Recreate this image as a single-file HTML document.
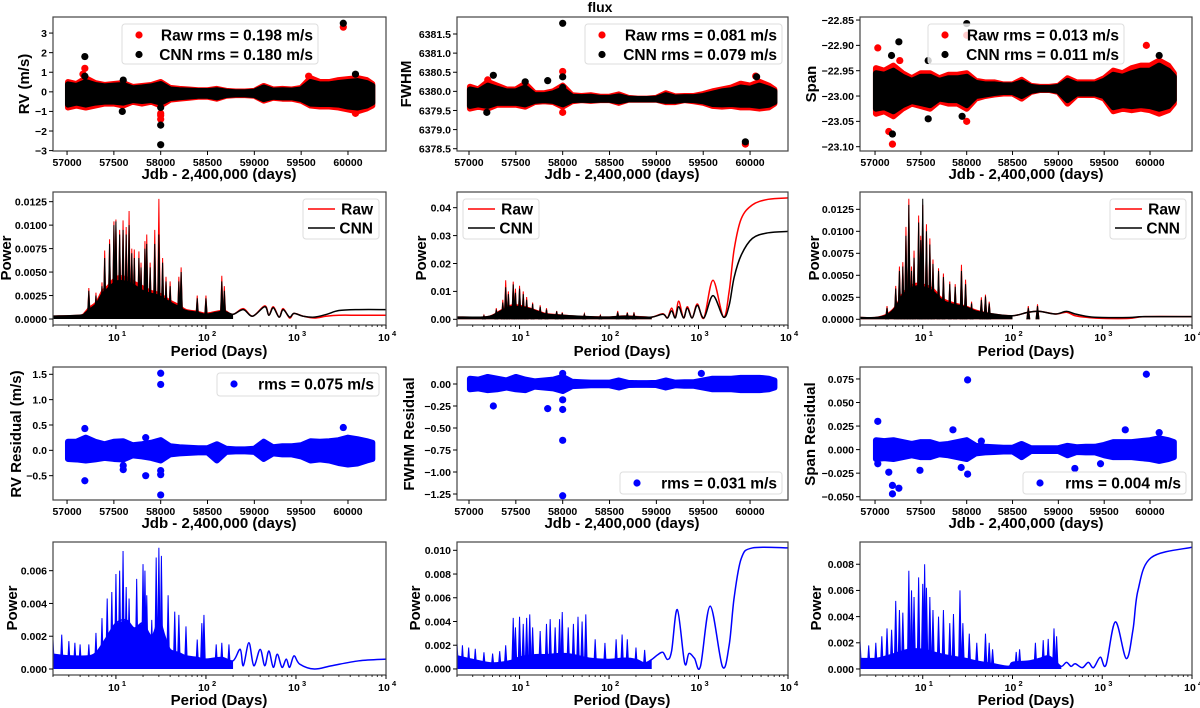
<!DOCTYPE html>
<html><head><meta charset="utf-8"><style>
html,body{margin:0;padding:0;background:#fff;width:1200px;height:708px;overflow:hidden}
svg{display:block;font-family:"Liberation Sans",sans-serif}
text{font-weight:bold;fill:#000}
</style></head><body>
<svg id="fig" width="1200" height="708" viewBox="0 0 1200 708"></svg>
<script>
// ---------- DATA ----------
const timeTicks=[57000,57500,58000,58500,59000,59500,60000];
const logTicks=[10,100,1000,10000];
const logTickLabels=["1","2","3","4"];
// RV (row1 col1)
const rvT=[57010,57100,57200,57300,57400,57500,57600,57700,57800,57900,58000,58100,58200,58300,58400,58500,58600,58700,58800,58900,59000,59100,59200,59300,59400,59500,59600,59700,59800,59900,60000,60100,60200,60260];
const rvRawHi=[0.5,0.4,0.7,0.45,0.35,0.4,0.45,0.25,0.3,0.35,0.5,0.2,0.15,0.12,0.08,0.08,0.15,0.05,0.02,0.02,0.05,0.3,0.12,0.15,0.12,0.2,0.7,0.5,0.5,0.6,0.65,0.7,0.6,0.4];
const rvRawLo=[-0.8,-0.7,-0.8,-0.7,-0.6,-0.6,-0.7,-0.5,-0.6,-0.5,-0.7,-0.4,-0.35,-0.3,-0.25,-0.25,-0.35,-0.2,-0.17,-0.17,-0.2,-0.45,-0.3,-0.35,-0.35,-0.45,-0.7,-0.75,-0.75,-0.8,-0.9,-1.0,-0.85,-0.7];
const rvCnnHi=[0.38,0.3,0.5,0.35,0.28,0.32,0.35,0.18,0.22,0.28,0.4,0.12,0.08,0.06,0.04,0.04,0.08,0.01,-0.02,-0.02,0.01,0.22,0.06,0.08,0.06,0.12,0.5,0.38,0.38,0.45,0.5,0.55,0.45,0.3];
const rvCnnLo=[-0.65,-0.55,-0.65,-0.55,-0.5,-0.5,-0.55,-0.42,-0.47,-0.42,-0.55,-0.32,-0.28,-0.24,-0.2,-0.2,-0.28,-0.16,-0.13,-0.13,-0.16,-0.37,-0.25,-0.28,-0.28,-0.37,-0.6,-0.62,-0.62,-0.65,-0.75,-0.8,-0.7,-0.55];
const rvRawOutT=[57190,57170,58000,58000,58000,59950,60080,59580];
const rvRawOutV=[1.2,0.9,-1.1,-1.4,-1.2,3.3,-1.1,0.8];
const rvCnnOutT=[57190,57190,57590,58000,58000,58000,59950,60080,57600];
const rvCnnOutV=[1.8,0.8,-1.0,-0.8,-1.7,-2.7,3.5,0.9,0.6];
// FWHM (row1 col2)
const fwT=rvT;
const fwRawHi=[6380.12,6380.05,6380.25,6380.15,6380.05,6380.05,6380.2,6379.95,6379.95,6380.0,6380.15,6379.9,6379.88,6379.9,6379.86,6379.86,6379.92,6379.83,6379.81,6379.81,6379.83,6379.95,6379.87,6379.88,6379.88,6379.93,6380.0,6380.05,6380.1,6380.2,6380.15,6380.25,6380.15,6380.05];
const fwRawLo=[6379.55,6379.6,6379.55,6379.65,6379.65,6379.65,6379.6,6379.72,6379.74,6379.72,6379.6,6379.74,6379.77,6379.75,6379.77,6379.77,6379.7,6379.78,6379.78,6379.78,6379.78,6379.72,6379.72,6379.77,6379.74,6379.7,6379.62,6379.6,6379.62,6379.58,6379.58,6379.55,6379.58,6379.68];
const fwCnnHi=[6380.05,6380.0,6380.15,6380.07,6380.0,6380.0,6380.1,6379.9,6379.9,6379.95,6380.05,6379.86,6379.85,6379.86,6379.83,6379.83,6379.87,6379.81,6379.8,6379.8,6379.81,6379.9,6379.84,6379.85,6379.85,6379.88,6379.94,6380.0,6380.03,6380.1,6380.07,6380.15,6380.07,6380.0];
const fwCnnLo=[6379.62,6379.66,6379.62,6379.7,6379.7,6379.7,6379.66,6379.75,6379.77,6379.75,6379.66,6379.77,6379.78,6379.77,6379.78,6379.78,6379.74,6379.79,6379.79,6379.79,6379.79,6379.75,6379.75,6379.78,6379.77,6379.74,6379.67,6379.66,6379.67,6379.65,6379.65,6379.62,6379.65,6379.72];
const fwRawOutT=[58000,58000,59950,60060,57200];
const fwRawOutV=[6380.52,6379.45,6378.62,6380.4,6380.3];
const fwCnnOutT=[58000,57260,57840,58000,58000,57190,59950,60070,57600];
const fwCnnOutV=[6381.78,6380.42,6380.28,6380.38,6380.1,6379.45,6378.68,6380.38,6380.25];
// Span (row1 col3)
const spT=rvT;
const spRawHi=[-22.945,-22.95,-22.94,-22.955,-22.965,-22.955,-22.955,-22.965,-22.958,-22.958,-22.955,-22.97,-22.973,-22.973,-22.977,-22.977,-22.968,-22.98,-22.982,-22.982,-22.98,-22.965,-22.973,-22.973,-22.973,-22.965,-22.95,-22.955,-22.945,-22.94,-22.94,-22.93,-22.94,-22.955];
const spRawLo=[-23.035,-23.03,-23.04,-23.025,-23.015,-23.02,-23.025,-23.01,-23.015,-23.015,-23.025,-23.005,-23.0,-22.997,-22.995,-22.995,-23.005,-22.992,-22.988,-22.988,-22.992,-23.015,-22.998,-22.998,-22.998,-23.005,-23.03,-23.025,-23.028,-23.025,-23.028,-23.035,-23.028,-23.015];
const spCnnHi=[-22.955,-22.958,-22.95,-22.962,-22.97,-22.962,-22.962,-22.97,-22.965,-22.965,-22.962,-22.974,-22.977,-22.977,-22.979,-22.979,-22.973,-22.982,-22.984,-22.984,-22.982,-22.97,-22.977,-22.977,-22.977,-22.97,-22.958,-22.962,-22.955,-22.95,-22.95,-22.94,-22.95,-22.962];
const spCnnLo=[-23.025,-23.022,-23.03,-23.018,-23.01,-23.014,-23.018,-23.005,-23.008,-23.008,-23.018,-23.0,-22.997,-22.994,-22.992,-22.992,-23.0,-22.99,-22.987,-22.987,-22.99,-23.008,-22.995,-22.995,-22.995,-23.0,-23.022,-23.018,-23.02,-23.018,-23.02,-23.025,-23.02,-23.008];
const spRawOutT=[57030,57190,57150,58000,58000,59960,57270];
const spRawOutV=[-22.905,-23.095,-23.07,-22.88,-23.05,-22.90,-22.93];
const spCnnOutT=[58000,57260,57190,57180,57580,57580,57950,60100];
const spCnnOutV=[-22.857,-22.893,-23.075,-22.92,-22.93,-23.045,-23.04,-22.92];
// Residuals (row3)
const rrT=rvT;
const rrHi=[0.17,0.17,0.25,0.17,0.12,0.17,0.18,0.1,0.12,0.15,0.2,0.08,0.06,0.05,0.04,0.04,0.12,0.03,0.02,0.02,0.03,0.17,0.06,0.08,0.08,0.1,0.18,0.17,0.18,0.2,0.25,0.22,0.18,0.15];
const rrLo=[-0.17,-0.18,-0.2,-0.18,-0.15,-0.17,-0.18,-0.1,-0.12,-0.15,-0.2,-0.08,-0.06,-0.05,-0.04,-0.04,-0.2,-0.03,-0.02,-0.02,-0.03,-0.17,-0.06,-0.08,-0.08,-0.12,-0.2,-0.18,-0.2,-0.25,-0.28,-0.26,-0.2,-0.17];
const rrOutT=[57190,57190,57600,57840,57840,58000,58000,58000,58000,58000,59950,57600];
const rrOutV=[0.43,-0.6,-0.38,0.25,-0.5,1.52,1.3,-0.4,-0.48,-0.88,0.45,-0.3];
const frHi=[0.06,0.05,0.08,0.06,0.04,0.08,0.05,0.03,0.04,0.05,0.08,0.025,0.02,0.015,0.015,0.015,0.04,0.012,0.01,0.01,0.012,0.04,0.015,0.02,0.02,0.04,0.06,0.06,0.06,0.07,0.07,0.07,0.06,0.04];
const frLo=[-0.06,-0.05,-0.07,-0.06,-0.04,-0.06,-0.07,-0.03,-0.04,-0.05,-0.08,-0.025,-0.02,-0.015,-0.015,-0.015,-0.04,-0.012,-0.01,-0.01,-0.012,-0.04,-0.015,-0.02,-0.02,-0.04,-0.06,-0.06,-0.06,-0.07,-0.07,-0.07,-0.06,-0.04];
const frOutT=[57260,57840,58000,58000,58000,58000,59480,58000];
const frOutV=[-0.25,-0.28,-0.18,-0.29,-0.64,-1.27,0.12,0.12];
const srHi=[0.01,0.009,0.01,0.008,0.006,0.008,0.008,0.005,0.006,0.008,0.01,0.004,0.003,0.0025,0.002,0.002,0.006,0.0015,0.0015,0.0015,0.0015,0.004,0.0025,0.003,0.003,0.005,0.008,0.008,0.008,0.009,0.01,0.012,0.01,0.008];
const srLo=[-0.01,-0.009,-0.01,-0.008,-0.006,-0.008,-0.008,-0.005,-0.006,-0.008,-0.01,-0.004,-0.003,-0.0025,-0.002,-0.002,-0.008,-0.0015,-0.0015,-0.0015,-0.0015,-0.006,-0.0025,-0.003,-0.003,-0.006,-0.008,-0.008,-0.008,-0.009,-0.01,-0.012,-0.01,-0.008];
const srOutT=[57030,57150,57190,57190,57260,58010,59960,57940,58010,57850,59730,58160,57490,59180,59460,60100,57030];
const srOutV=[0.03,-0.024,-0.038,-0.047,-0.041,0.074,0.08,-0.019,-0.026,0.021,0.021,0.009,-0.022,-0.02,-0.015,0.018,-0.015];
// Periodograms row2 col1 (RV)
const p1CoreP=[2,4,4.5,5,6,7,8,10,13,16,20,25,30,40,50,60,80,100,130,160,200,260,330,450,500,560,650,720,850,950,1200,1600,2200,3000,5000,10000];
const p1RawCore=[0.0003,0.0004,0.0007,0.0012,0.0018,0.003,0.0035,0.0045,0.0045,0.004,0.0035,0.003,0.0028,0.002,0.0015,0.001,0.0008,0.0006,0.0008,0.0009,0.0005,0.0011,0.0003,0.0014,0.0004,0.0013,0.0002,0.0011,0.0001,0.0006,0.0003,0.0001,0.0003,0.0004,0.0004,0.0004];
const p1CnnCore=[0.0003,0.0004,0.0006,0.001,0.0016,0.0027,0.0032,0.004,0.004,0.0036,0.003,0.0027,0.0025,0.0018,0.0013,0.0009,0.0007,0.0005,0.0007,0.0008,0.0005,0.001,0.0003,0.0013,0.0004,0.0012,0.0002,0.001,0.0002,0.0006,0.0003,0.0002,0.0005,0.0009,0.001,0.001];
const p1SpikeP=[5,6,7,7.5,8.5,9.5,10,11,12,13,14,15,16,18,19,21,22,24,27,30,33,36,40,50,53,80,100,150,160];
const p1RawSpike=[0.0033,0.0028,0.0039,0.0073,0.0085,0.0104,0.0106,0.0095,0.0105,0.0098,0.0115,0.0075,0.0074,0.0072,0.006,0.0083,0.009,0.006,0.0095,0.0128,0.0065,0.0045,0.004,0.0045,0.0055,0.0025,0.0025,0.0046,0.0035];
const p1CnnSpike=[0.003,0.0025,0.0035,0.0065,0.008,0.01,0.0104,0.009,0.0095,0.009,0.01,0.007,0.0065,0.0065,0.0055,0.0075,0.008,0.0055,0.008,0.009,0.006,0.004,0.0035,0.004,0.005,0.0022,0.0022,0.004,0.003];
// row2 col2 (FWHM)
const p2CoreP=[2,4,5,6,8,10,13,16,20,30,50,80,100,150,200,300,400,450,500,550,600,680,750,850,970,1150,1450,1900,2200,2500,3000,4000,6000,10000];
const p2RawCore=[0.0008,0.0008,0.0015,0.003,0.005,0.005,0.004,0.003,0.002,0.0015,0.001,0.0008,0.0008,0.0012,0.001,0.0008,0.002,0.0005,0.004,0.0006,0.0065,0.0005,0.0045,0.0005,0.0055,0.0005,0.014,0.0008,0.01,0.025,0.036,0.041,0.043,0.0435];
const p2CnnCore=[0.0008,0.0008,0.0014,0.0028,0.0045,0.0045,0.0038,0.0028,0.0018,0.0014,0.001,0.0008,0.0008,0.0011,0.0009,0.0008,0.0018,0.0005,0.003,0.0005,0.0045,0.0005,0.004,0.0005,0.005,0.0005,0.0085,0.0008,0.005,0.015,0.023,0.029,0.031,0.0315];
const p2SpikeP=[4,5.5,6.5,7,7.5,8.5,9,10,11,12,14,17,20,26,30,53,80,125,160,190];
const p2RawSpike=[0.0015,0.004,0.007,0.014,0.01,0.0135,0.011,0.012,0.01,0.008,0.006,0.005,0.004,0.003,0.0025,0.002,0.0015,0.003,0.0025,0.0025];
const p2CnnSpike=[0.0013,0.0035,0.006,0.0115,0.009,0.0125,0.0095,0.011,0.009,0.007,0.0055,0.0045,0.0035,0.0028,0.0022,0.0018,0.0013,0.0025,0.0022,0.002];
// row2 col3 (Span)
const p3CoreP=[2,3,4,5,6,8,10,13,16,20,30,40,60,100,150,200,300,400,500,700,1000,2000,3000,10000];
const p3RawCore=[0.0002,0.0002,0.0006,0.0015,0.003,0.004,0.004,0.0035,0.0025,0.002,0.0015,0.001,0.0006,0.0004,0.0008,0.0009,0.0006,0.0008,0.0004,0.0002,0.0001,0.0001,0.0003,0.0003];
const p3CnnCore=[0.0002,0.0002,0.0005,0.0014,0.0028,0.0037,0.0037,0.0032,0.0023,0.0018,0.0014,0.0009,0.0006,0.0004,0.0008,0.0009,0.0006,0.0009,0.0006,0.0003,0.0002,0.0002,0.0003,0.0003];
const p3SpikeP=[4,5,5.5,6,6.5,7,7.5,8,9,9.5,10,11,12,13,15,17,20,23,27,30,35,45,50,55,150,190];
const p3RawSpike=[0.0015,0.0038,0.006,0.0065,0.0105,0.0137,0.006,0.0078,0.0118,0.0095,0.013,0.0108,0.0092,0.0068,0.0058,0.0052,0.0043,0.004,0.0062,0.0045,0.002,0.0025,0.0028,0.002,0.0015,0.0017];
const p3CnnSpike=[0.0013,0.0035,0.0055,0.006,0.0095,0.013,0.0055,0.007,0.011,0.009,0.0137,0.01,0.0085,0.0063,0.0055,0.0048,0.004,0.0037,0.0055,0.004,0.0018,0.0022,0.0026,0.0018,0.0013,0.0015];
// row4 residual periodograms
const q1CoreP=[2,3,5,6,7,8,10,13,16,20,25,30,35,40,50,60,80,100,150,200,240,260,300,340,400,450,500,560,620,700,780,850,950,1100,1600,2500,5000,10000];
const q1Core=[0.0009,0.0008,0.0008,0.001,0.0015,0.002,0.0028,0.003,0.0025,0.0028,0.002,0.003,0.002,0.0012,0.001,0.0008,0.0007,0.0006,0.0007,0.0005,0.0012,0.0002,0.0016,0.0002,0.0012,0.0002,0.0011,0.0001,0.0009,0.0001,0.0006,0.0001,0.0008,0.0003,0.0,0.0002,0.0005,0.0006];
const q1SpikeP=[2,2.5,3,3.5,4,5,6,7,8,9,10,11,12,13,14,17,20,21,22,25,28,30,32,38,45,50,60,80,90,95,130,150,180];
const q1Spike=[0.0018,0.0021,0.0017,0.0016,0.0015,0.0015,0.0022,0.0031,0.0043,0.0047,0.0058,0.006,0.0072,0.005,0.0043,0.0055,0.0064,0.006,0.0045,0.003,0.0068,0.0074,0.0069,0.0045,0.0035,0.0033,0.0026,0.0018,0.0028,0.0033,0.0015,0.0016,0.0015];
const q2CoreP=[2,3,5,8,10,15,20,30,40,60,100,150,200,250,300,350,400,450,500,580,700,780,900,1050,1350,1850,2200,2500,3000,4000,10000];
const q2Core=[0.0011,0.0008,0.0005,0.0007,0.001,0.0012,0.0012,0.0013,0.0012,0.0009,0.0008,0.0009,0.0008,0.0005,0.0008,0.0012,0.0014,0.0008,0.0015,0.005,0.0005,0.0013,0.0009,0.0002,0.0053,0.0002,0.002,0.006,0.0093,0.0102,0.0102];
const q2SpikeP=[2,2.3,2.7,3.2,4,5,6,7,8.5,9,10,11,12,13,14,17,20,22,25,28,30,35,40,45,50,55,70,90,120,140,160,200,250];
const q2Spike=[0.0022,0.002,0.0018,0.0017,0.0014,0.0013,0.0015,0.002,0.0043,0.0035,0.0044,0.0038,0.0043,0.0046,0.0035,0.0032,0.0038,0.0042,0.0035,0.0042,0.0048,0.0035,0.0038,0.0044,0.004,0.0046,0.0025,0.0022,0.0025,0.0029,0.0025,0.0018,0.0016];
const q3CoreP=[2,3,4,5,7,10,13,20,30,40,60,90,100,150,200,250,300,350,400,450,500,600,700,800,950,1100,1400,1850,2200,2500,3500,10000];
const q3Core=[0.0008,0.0008,0.001,0.0012,0.0015,0.0015,0.0013,0.001,0.0008,0.0006,0.0004,0.0002,0.0005,0.0006,0.0008,0.001,0.0006,0.0002,0.0005,0.0002,0.0004,0.0001,0.0005,0.0001,0.0009,0.0003,0.0036,0.0008,0.003,0.006,0.0085,0.0093];
const q3SpikeP=[2,2.5,3,3.5,4,4.5,5,5.5,6,7,7.5,8,9,10,10.5,11,12,13,15,17,20,22,26,28,33,40,50,55,60,110,120,180,220,250,290,310];
const q3Spike=[0.0022,0.0018,0.002,0.0025,0.0031,0.003,0.0052,0.0045,0.0043,0.0075,0.006,0.0055,0.007,0.0065,0.008,0.0062,0.0055,0.0045,0.004,0.0045,0.0035,0.0042,0.006,0.0035,0.0027,0.002,0.0027,0.002,0.0015,0.0013,0.0015,0.002,0.0022,0.0023,0.0031,0.0025];

// ---------- RENDER ----------
const NS="http://www.w3.org/2000/svg";
const svg=document.getElementById('fig');
function mk(tag,attrs,parent){const e=document.createElementNS(NS,tag);for(const k in attrs)e.setAttribute(k,attrs[k]);(parent||svg).appendChild(e);return e;}
let clipId=0;
function panel(name,x0,y0,x1,y1,xmode,xlim,ylim){
  const g=mk('g',{});
  
  
  const id='c'+(clipId++);
  const cp=mk('clipPath',{id:id},g);mk('rect',{x:x0,y:y0,width:x1-x0,height:y1-y0},cp);
  const X = xmode==='log' ? (v=>x0+(Math.log10(v)-Math.log10(xlim[0]))/(Math.log10(xlim[1])-Math.log10(xlim[0]))*(x1-x0))
                          : (v=>x0+(v-xlim[0])/(xlim[1]-xlim[0])*(x1-x0));
  const Y = v=>y1-(v-ylim[0])/(ylim[1]-ylim[0])*(y1-y0);
  const plot=mk('g',{'clip-path':'url(#'+id+')'},g);
  return {g,plot,X,Y,x0,y0,x1,y1};
}
function frame(P){
  const r=mk('rect',{x:P.x0,y:P.y0,width:P.x1-P.x0,height:P.y1-P.y0,fill:'none',stroke:'#444','stroke-width':1.2},P.g);
  
  
}
function yTicks(P,vals,dec){
  const ga=mk('g',{},P.g);
  
  
  vals.forEach(v=>{const y=P.Y(v);
    mk('line',{x1:P.x0-4,x2:P.x0,y1:y,y2:y,stroke:'#000','stroke-width':1},ga);
    const t=mk('text',{x:P.x0-6,y:y+3.8,'text-anchor':'end','font-size':10.5},ga);
    t.textContent=(v<0?'\u2212':'')+Math.abs(v).toFixed(dec);});
}
function xTimeTicks(P){
  const ga=mk('g',{},P.g);
  
  
  timeTicks.forEach(v=>{const x=P.X(v);
    mk('line',{x1:x,x2:x,y1:P.y1,y2:P.y1+4,stroke:'#000'},ga);
    const t=mk('text',{x:x,y:P.y1+15,'text-anchor':'middle','font-size':10.5},ga);t.textContent=String(v);});
}
function xLogTicks(P){
  const ga=mk('g',{},P.g);
  
  
  for(let d=0;d<4;d++)for(let m=2;m<10;m++){const v=m*Math.pow(10,d);if(v<2)continue;const x=P.X(v);
    mk('line',{x1:x,x2:x,y1:P.y1,y2:P.y1+2,stroke:'#000','stroke-width':0.8},ga);}
  logTicks.forEach((v,i)=>{const x=P.X(v);
    mk('line',{x1:x,x2:x,y1:P.y1,y2:P.y1+4,stroke:'#000'},ga);
    const t=mk('text',{x:x-2,y:P.y1+16,'text-anchor':'middle','font-size':10.5},ga);t.textContent='10';
    const s=mk('text',{x:x+6,y:P.y1+11,'text-anchor':'start','font-size':7.5},ga);s.textContent=logTickLabels[i];});
}
function label(txt,x,y,rot,size,name){
  const t=mk('text',{x:x,y:y,'text-anchor':'middle','font-size':size||15,transform:rot?`rotate(-90 ${x} ${y})`:''});
  t.textContent=txt;
  
  
}
function envelope(P,T,hi,lo,color,name){
  const pts=T.map((t,i)=>P.X(t)+','+P.Y(hi[i])).concat(T.map((t,i)=>P.X(t)+','+P.Y(lo[i])).reverse());
  const e=mk('polygon',{points:pts.join(' '),fill:color,stroke:color,'stroke-width':6,'stroke-linejoin':'round'},P.plot);
  
  
}
function dots(P,T,V,color,name){
  const g=mk('g',{},P.plot);
  
  
  T.forEach((t,i)=>mk('circle',{cx:P.X(t),cy:P.Y(V[i]),r:3.6,fill:color},g));
}
// Catmull-Rom smoothed path through pixel points
function smoothPath(pts){
  let d='M'+pts[0][0]+','+pts[0][1];
  for(let i=0;i<pts.length-1;i++){
    const p0=pts[Math.max(0,i-1)],p1=pts[i],p2=pts[i+1],p3=pts[Math.min(pts.length-1,i+2)];
    const c1x=p1[0]+(p2[0]-p0[0])/6,c1y=p1[1]+(p2[1]-p0[1])/6;
    const c2x=p2[0]-(p3[0]-p1[0])/6,c2y=p2[1]-(p3[1]-p1[1])/6;
    d+=` C${c1x},${c1y} ${c2x},${c2y} ${p2[0]},${p2[1]}`;
  }
  return d;
}
function pgram(P,CP,CV,SP,SV,color,name,fillEnd){
  const g=mk('g',{},P.plot);
  
  
  const base=P.Y(0);
  const fp=[];let lastX=P.X(CP[0]);
  CP.forEach((p,i)=>{if(p<=fillEnd){fp.push(P.X(p)+','+P.Y(CV[i]));lastX=P.X(p);}});
  fp.push(lastX+','+base);fp.push(P.X(CP[0])+','+base);
  mk('polygon',{points:fp.join(' '),fill:color,stroke:'none'},g);
  SP.forEach((p,i)=>{const x=P.X(p);
    mk('polyline',{points:`${x-1.5},${base} ${x},${P.Y(SV[i])} ${x+1.5},${base}`,fill:color,stroke:color,'stroke-width':1},g);});
  const pts=CP.map((p,i)=>[P.X(p),P.Y(CV[i])]);
  mk('path',{d:smoothPath(pts),fill:'none',stroke:color,'stroke-width':1.5,'stroke-linejoin':'round'},g);
}
function legendDots(x0,y0,x1,y1,items,name){
  const g=mk('g',{});
  
  
  mk('rect',{x:x0,y:y0,width:x1-x0,height:y1-y0,rx:3,fill:'#fff','fill-opacity':0.8,stroke:'#ddd'},g);
  items.forEach((it,i)=>{const y=y0+11+i*19.5;
    mk('circle',{cx:x0+17,cy:y,r:3.6,fill:it[1]},g);
    const t=mk('text',{x:x1-5,y:y+5.5,'text-anchor':'end','font-size':15.5},g);t.textContent=it[0];});
}
function legendLines(x0,y0,x1,y1,items,name){
  const g=mk('g',{});
  
  
  mk('rect',{x:x0,y:y0,width:x1-x0,height:y1-y0,rx:3,fill:'#fff','fill-opacity':0.8,stroke:'#ddd'},g);
  items.forEach((it,i)=>{const y=y0+10+i*19;
    mk('line',{x1:x0+5,x2:x0+32,y1:y,y2:y,stroke:it[1],'stroke-width':1.5},g);
    const t=mk('text',{x:x1-6,y:y+5.5,'text-anchor':'end','font-size':15.5},g);t.textContent=it[0];});
}

const cols=[[53,386],[457,788],[860,1192]];
const rows=[[17,151],[192,325],[367,500],[542,675]];
const tl=[[56850,60406],[56872,60405],[56836,60458]];

// Row 1
let P=panel('rv-panel',cols[0][0],rows[0][0],cols[0][1],rows[0][1],'lin',tl[0],[-3.02,3.82]);
envelope(P,rvT,rvRawHi,rvRawLo,'#f00','rv-raw-points');dots(P,rvRawOutT,rvRawOutV,'#f00','rv-raw-outliers');
envelope(P,rvT,rvCnnHi,rvCnnLo,'#000','rv-cnn-points');dots(P,rvCnnOutT,rvCnnOutV,'#000','rv-cnn-outliers');
frame(P);yTicks(P,[-3,-2,-1,0,1,2,3],0);xTimeTicks(P);
legendDots(122,24,318,64,[['Raw rms = 0.198 m/s','#f00'],['CNN rms = 0.180 m/s','#000']],'rv-legend');

P=panel('fwhm-panel',cols[1][0],rows[0][0],cols[1][1],rows[0][1],'lin',tl[1],[6378.44,6381.945]);
envelope(P,fwT,fwRawHi,fwRawLo,'#f00','fwhm-raw-points');dots(P,fwRawOutT,fwRawOutV,'#f00','fwhm-raw-outliers');
envelope(P,fwT,fwCnnHi,fwCnnLo,'#000','fwhm-cnn-points');dots(P,fwCnnOutT,fwCnnOutV,'#000','fwhm-cnn-outliers');
frame(P);yTicks(P,[6378.5,6379,6379.5,6380,6380.5,6381,6381.5],1);xTimeTicks(P);
legendDots(585,24,782,64,[['Raw rms = 0.081 m/s','#f00'],['CNN rms = 0.079 m/s','#000']],'fwhm-legend');

P=panel('span-panel',cols[2][0],rows[0][0],cols[2][1],rows[0][1],'lin',tl[2],[-23.1085,-22.844]);
envelope(P,spT,spRawHi,spRawLo,'#f00','span-raw-points');dots(P,spRawOutT,spRawOutV,'#f00','span-raw-outliers');
envelope(P,spT,spCnnHi,spCnnLo,'#000','span-cnn-points');dots(P,spCnnOutT,spCnnOutV,'#000','span-cnn-outliers');
frame(P);yTicks(P,[-23.1,-23.05,-23,-22.95,-22.9,-22.85],2);xTimeTicks(P);
legendDots(928,24,1124,64,[['Raw rms = 0.013 m/s','#f00'],['CNN rms = 0.011 m/s','#000']],'span-legend');

// Row 2
P=panel('rv-periodogram',cols[0][0],rows[1][0],cols[0][1],rows[1][1],'log',[2,10000],[-0.00064,0.01353]);
pgram(P,p1CoreP,p1RawCore,p1SpikeP,p1RawSpike,'#f00','rv-raw-periodogram',200);
pgram(P,p1CoreP,p1CnnCore,p1SpikeP,p1CnnSpike,'#000','rv-cnn-periodogram',200);
frame(P);yTicks(P,[0,0.0025,0.005,0.0075,0.01,0.0125],4);xLogTicks(P);
legendLines(303,199,379,239,[['Raw','#f00'],['CNN','#000']],'rv-periodogram-legend');

P=panel('fwhm-periodogram',cols[1][0],rows[1][0],cols[1][1],rows[1][1],'log',[2,10000],[-0.00204,0.04562]);
pgram(P,p2CoreP,p2RawCore,p2SpikeP,p2RawSpike,'#f00','fwhm-raw-periodogram',300);
pgram(P,p2CoreP,p2CnnCore,p2SpikeP,p2CnnSpike,'#000','fwhm-cnn-periodogram',300);
frame(P);yTicks(P,[0,0.01,0.02,0.03,0.04],2);xLogTicks(P);
legendLines(463,199,539,239,[['Raw','#f00'],['CNN','#000']],'fwhm-periodogram-legend');

P=panel('span-periodogram',cols[2][0],rows[1][0],cols[2][1],rows[1][1],'log',[2,10000],[-0.00065,0.01447]);
pgram(P,p3CoreP,p3RawCore,p3SpikeP,p3RawSpike,'#f00','span-raw-periodogram',100);
pgram(P,p3CoreP,p3CnnCore,p3SpikeP,p3CnnSpike,'#000','span-cnn-periodogram',100);
frame(P);yTicks(P,[0,0.0025,0.005,0.0075,0.01,0.0125],4);xLogTicks(P);
legendLines(1110,199,1186,239,[['Raw','#f00'],['CNN','#000']],'span-periodogram-legend');

// Row 3
P=panel('rv-residual-panel',cols[0][0],rows[2][0],cols[0][1],rows[2][1],'lin',tl[0],[-0.98,1.644]);
envelope(P,rrT,rrHi,rrLo,'#00f','rv-residual-points');dots(P,rrOutT,rrOutV,'#00f','rv-residual-outliers');
frame(P);yTicks(P,[-0.5,0,0.5,1,1.5],1);xTimeTicks(P);
legendDots(217,373,379,396,[['rms = 0.075 m/s','#00f']],'rv-residual-legend');

P=panel('fwhm-residual-panel',cols[1][0],rows[2][0],cols[1][1],rows[2][1],'lin',tl[1],[-1.318,0.193]);
envelope(P,rrT,frHi,frLo,'#00f','fwhm-residual-points');dots(P,frOutT,frOutV,'#00f','fwhm-residual-outliers');
frame(P);yTicks(P,[-1.25,-1,-0.75,-0.5,-0.25,0],2);xTimeTicks(P);
legendDots(620,472,782,494,[['rms = 0.031 m/s','#00f']],'fwhm-residual-legend');

P=panel('span-residual-panel',cols[2][0],rows[2][0],cols[2][1],rows[2][1],'lin',tl[2],[-0.0535,0.0877]);
envelope(P,rrT,srHi,srLo,'#00f','span-residual-points');dots(P,srOutT,srOutV,'#00f','span-residual-outliers');
frame(P);yTicks(P,[-0.05,-0.025,0,0.025,0.05,0.075],3);xTimeTicks(P);
legendDots(1023,472,1186,494,[['rms = 0.004 m/s','#00f']],'span-residual-legend');

// Row 4
P=panel('rv-residual-periodogram',cols[0][0],rows[3][0],cols[0][1],rows[3][1],'log',[2,10000],[-0.000366,0.00775]);
pgram(P,q1CoreP,q1Core,q1SpikeP,q1Spike,'#00f','rv-residual-power',200);
frame(P);yTicks(P,[0,0.002,0.004,0.006],3);xLogTicks(P);
P=panel('fwhm-residual-periodogram',cols[1][0],rows[3][0],cols[1][1],rows[3][1],'log',[2,10000],[-0.00051,0.0107]);
pgram(P,q2CoreP,q2Core,q2SpikeP,q2Spike,'#00f','fwhm-residual-power',300);
frame(P);yTicks(P,[0,0.002,0.004,0.006,0.008,0.01],3);xLogTicks(P);
P=panel('span-residual-periodogram',cols[2][0],rows[3][0],cols[2][1],rows[3][1],'log',[2,10000],[-0.00046,0.0097]);
pgram(P,q3CoreP,q3Core,q3SpikeP,q3Spike,'#00f','span-residual-power',350);
frame(P);yTicks(P,[0,0.002,0.004,0.006,0.008],3);xLogTicks(P);

// Titles & axis labels
label('flux',600,12,false,14,'figure-title');
const xl='Jdb - 2,400,000 (days)';
label(xl,219,179,false,15,'x-axis-title');label(xl,622,179,false,15,'x-axis-title');label(xl,1026,179,false,15,'x-axis-title');
label(xl,219,528,false,15,'x-axis-title');label(xl,622,528,false,15,'x-axis-title');label(xl,1026,528,false,15,'x-axis-title');
label('Period (Days)',219,356,false,15,'x-axis-title');label('Period (Days)',622,356,false,15,'x-axis-title');label('Period (Days)',1026,356,false,15,'x-axis-title');
label('Period (Days)',219,705,false,15,'x-axis-title');label('Period (Days)',622,705,false,15,'x-axis-title');label('Period (Days)',1026,705,false,15,'x-axis-title');
label('RV (m/s)',29,84,true,15,'y-axis-title');label('FWHM',411,84,true,15,'y-axis-title');label('Span',816,84,true,15,'y-axis-title');
label('Power',11,258,true,15,'y-axis-title');label('Power',426,258,true,15,'y-axis-title');label('Power',819,258,true,15,'y-axis-title');
label('RV Residual (m/s)',21,434,true,15,'y-axis-title');label('FWHM Residual',414,434,true,15,'y-axis-title');label('Span Residual',815,434,true,15,'y-axis-title');
label('Power',17,608,true,15,'y-axis-title');label('Power',420,608,true,15,'y-axis-title');label('Power',821,608,true,15,'y-axis-title');
</script>
</body></html>
